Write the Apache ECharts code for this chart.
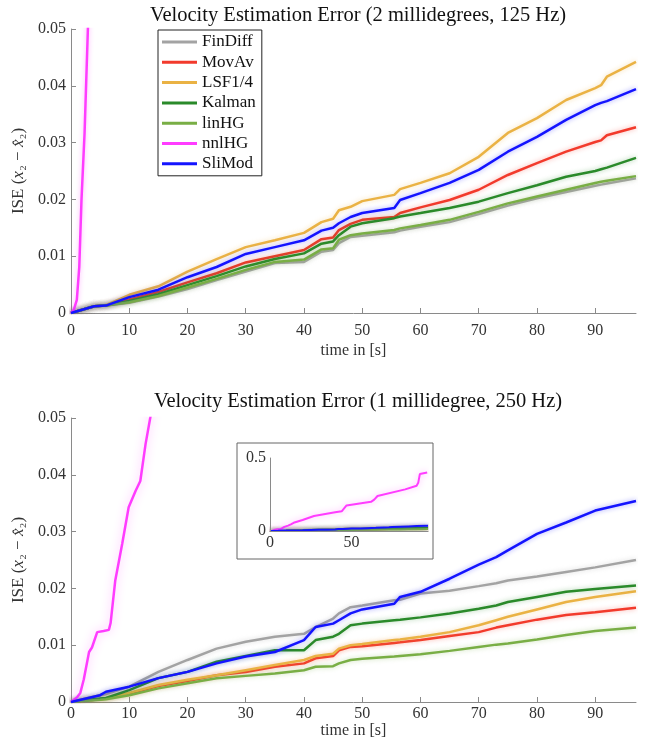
<!DOCTYPE html>
<html>
<head>
<meta charset="utf-8">
<script src="https://cdn.jsdelivr.net/npm/echarts@6/dist/echarts.min.js"></script>
<style>
  html, body { margin: 0; padding: 0; background: #fff; }
  #chart { width: 649px; height: 748px; }
</style>
</head>
<body>
<div id="chart"></div>
<script>
// --- data ---
const names = ['FinDiff', 'MovAv', 'LSF1/4', 'Kalman', 'linHG', 'nnlHG', 'SliMod'];
const colors = ['#a3a3a3', '#f23a2c', '#eab244', '#2a8a2a', '#79ae45', '#ff3cff', '#1414ff'];

const xTicks = [0, 10, 20, 30, 40, 50, 60, 70, 80, 90];
const yTicks = [0, 0.01, 0.02, 0.03, 0.04, 0.05];
const insetXTicks = [0, 50];
const insetYTicks = [0, 0.5];

// top: 2 millidegrees, 125 Hz
const tTop = [0, 4, 6, 10, 15, 20, 25, 30, 35, 40, 43, 45, 46, 48, 50, 55.5, 56.5, 60, 65, 70, 75, 80, 85, 90, 91, 92, 97];
const finDiffTop = [0, .0012, .0013, .0018, .0029, .0042, .0058, .0073, .0088, .0090, .0108, .0111, .0123, .0134, .0136, .0142, .0145, .0152, .0160, .0174, .0189, .0202, .0213, .0224, .0226, .0228, .0237];
const movAvTop   = [0, .0012, .0013, .0024, .0037, .0054, .0070, .0089, .0100, .0111, .0130, .0133, .0146, .0157, .0164, .0169, .0176, .0186, .0199, .0217, .0243, .0264, .0284, .0301, .0304, .0313, .0327];
const lsfTop     = [0, .0012, .0014, .0032, .0047, .0073, .0095, .0116, .0128, .0141, .0160, .0166, .0181, .0187, .0197, .0208, .0218, .0229, .0246, .0275, .0317, .0343, .0375, .0396, .0401, .0416, .0442];
const kalmanTop  = [0, .0012, .0013, .0021, .0033, .0049, .0065, .0082, .0095, .0105, .0122, .0126, .0137, .0152, .0158, .0167, .0170, .0176, .0185, .0196, .0211, .0225, .0240, .0250, .0253, .0256, .0273];
const linHGTop   = [0, .0012, .0013, .0019, .0030, .0045, .0060, .0076, .0090, .0094, .0112, .0114, .0129, .0137, .0140, .0146, .0149, .0155, .0164, .0178, .0193, .0205, .0217, .0229, .0231, .0233, .0241];
const sliModTop  = [0, .0012, .0013, .0028, .0041, .0063, .0081, .0104, .0116, .0128, .0145, .0150, .0158, .0169, .0176, .0185, .0199, .0211, .0229, .0252, .0284, .0310, .0340, .0366, .0370, .0373, .0394];
const tNnlTop = [0, 0.5, 1.0, 1.42, 1.8, 2.33, 2.9, 3.3];
const nnlHGTop = [0, .0006, .0023, .0081, .0199, .0317, .0500, .0600];

// bottom: 1 millidegree, 250 Hz
const tBot = [0, 5, 6, 10, 15, 20, 25, 30, 35, 40, 42, 45, 46, 48, 50, 55.5, 56.5, 60, 65, 70, 73, 75, 80, 85, 90, 97];
const finDiffBot = [0, .0012, .0014, .0027, .0053, .0074, .0094, .0106, .0115, .0120, .0132, .0147, .0156, .0167, .0170, .0179, .0180, .0191, .0196, .0204, .0209, .0214, .0221, .0229, .0237, .0250];
const movAvBot   = [0, .0005, .0006, .0015, .0028, .0037, .0047, .0053, .0062, .0068, .0077, .0081, .0091, .0097, .0098, .0104, .0105, .0109, .0116, .0123, .0131, .0135, .0145, .0153, .0158, .0166];
const lsfBot     = [0, .0005, .0006, .0016, .0030, .0039, .0047, .0056, .0065, .0074, .0081, .0085, .0094, .0100, .0102, .0109, .0110, .0115, .0123, .0135, .0144, .0150, .0163, .0176, .0185, .0195];
const kalmanBot  = [0, .0006, .0007, .0021, .0042, .0053, .0071, .0081, .0091, .0091, .0109, .0115, .0120, .0135, .0138, .0144, .0145, .0149, .0156, .0164, .0170, .0176, .0185, .0194, .0199, .0205];
const linHGBot   = [0, .0004, .0005, .0012, .0024, .0033, .0042, .0046, .0050, .0056, .0062, .0063, .0068, .0074, .0076, .0080, .0081, .0084, .0090, .0097, .0101, .0103, .0110, .0118, .0125, .0131];
const sliModBot  = [0, .0012, .0018, .0027, .0042, .0053, .0068, .0080, .0088, .0109, .0132, .0138, .0144, .0156, .0163, .0173, .0185, .0194, .0217, .0242, .0255, .0267, .0296, .0316, .0337, .0354];
const tNnlBot = [0, 1, 1.6, 2.2, 3.1, 3.6, 4.5, 5.6, 6.5, 6.8, 7.6, 8.8, 9.9, 11.1, 11.9, 12.8, 13.6, 14.5, 20, 27, 40, 44, 47, 62, 64, 66, 83, 90, 91, 92, 96.5];
const nnlHGBot = [0, .0008, .0016, .0040, .0088, .0096, .0123, .0125, .0127, .0139, .0214, .0279, .0343, .0372, .0389, .0454, .0500, .0560, .075, .103, .128, .135, .175, .200, .215, .240, .285, .310, .330, .390, .400];

const topSets = [finDiffTop, movAvTop, lsfTop, kalmanTop, linHGTop, null, sliModTop];
const botSets = [finDiffBot, movAvBot, lsfBot, kalmanBot, linHGBot, null, sliModBot];

const pairs = (xs, ys) => xs.map((x, i) => [x, ys[i]]);

const hexA = (hex, a) => {
  const n = parseInt(hex.slice(1), 16);
  return `rgba(${(n >> 16) & 255},${(n >> 8) & 255},${n & 255},${a})`;
};

const FONT = 'Liberation Serif';
const axisGray = '#8a8a8a';
const labelColor = '#333';

const mainX = (gridIndex, labelMargin, nameGap) => ({
  type: 'value', gridIndex, min: 0, max: 97,
  name: 'time in [s]', nameLocation: 'middle', nameGap,
  nameTextStyle: { fontFamily: FONT, fontSize: 16, color: labelColor },
  axisLine: { lineStyle: { color: axisGray, width: 1 } },
  axisTick: { inside: true, length: 5, lineStyle: { color: axisGray }, customValues: xTicks },
  axisLabel: { fontFamily: FONT, fontSize: 16, color: labelColor, margin: labelMargin, customValues: xTicks },
  splitLine: { show: false }
});

const mainY = (gridIndex) => ({
  type: 'value', gridIndex, min: 0, max: 0.05,
  name: '{a|ISE (}{b|x}{a|₂ − }{b|x̂}{a|₂)}', nameLocation: 'middle', nameGap: 36,
  nameTextStyle: {
    rich: {
      a: { fontFamily: FONT, fontSize: 17, color: labelColor },
      b: { fontFamily: FONT, fontSize: 17, fontStyle: 'italic', color: labelColor }
    }
  },
  axisLine: { show: true, lineStyle: { color: axisGray, width: 1 } },
  axisTick: { show: true, inside: true, length: 5, lineStyle: { color: axisGray }, customValues: yTicks },
  axisLabel: {
    fontFamily: FONT, fontSize: 16, color: labelColor, margin: 5, customValues: yTicks,
    formatter: v => (v === 0 ? '0' : v.toFixed(2))
  },
  splitLine: { show: false }
});

const series = [];
const addLine = (name, i, data, xIdx, yIdx, z, width, blur) => {
  series.push({
    name, type: 'line', xAxisIndex: xIdx, yAxisIndex: yIdx, data,
    showSymbol: false, symbol: 'none', z,
    color: colors[i],
    lineStyle: { color: colors[i], width: width, shadowColor: hexA(colors[i], 0.4), shadowBlur: blur },
    emphasis: { disabled: true },
    clip: true
  });
};

names.forEach((name, i) => {
  if (name === 'nnlHG') {
    addLine(name, i, pairs(tNnlTop, nnlHGTop), 0, 0, 2, 2.5, 5);
    addLine(name, i, pairs(tNnlBot, nnlHGBot), 1, 1, 2, 2.5, 10);
    addLine(name, i, pairs(tNnlBot, nnlHGBot), 2, 2, 6, 2, 6);
  } else {
    addLine(name, i, pairs(tTop, topSets[i]), 0, 0, 2, 2.5, 5);
    addLine(name, i, pairs(tBot, botSets[i]), 1, 1, 2, 2.5, 5);
    addLine(name, i, pairs(tBot, botSets[i]), 2, 2, 6, 2, 4);
  }
});

const chart = echarts.init(document.getElementById('chart'), null, { renderer: 'canvas' });

chart.setOption({
  animation: false,
  backgroundColor: '#fff',
  title: [
    { text: 'Velocity Estimation Error (2 millidegrees, 125 Hz)', left: 353, top: 0, textAlign: 'center',
      textStyle: { fontFamily: FONT, fontSize: 20.5, fontWeight: 'normal', color: '#111' } },
    { text: 'Velocity Estimation Error (1 millidegree, 250 Hz)', left: 353, top: 386, textAlign: 'center',
      textStyle: { fontFamily: FONT, fontSize: 20.5, fontWeight: 'normal', color: '#111' } }
  ],
  legend: {
    data: names,
    orient: 'vertical',
    left: 158, top: 30,
    padding: [3, 6, 3, 4],
    itemGap: 2.3,
    itemWidth: 35, itemHeight: 3,
    icon: 'rect',
    backgroundColor: '#fff',
    borderColor: '#222', borderWidth: 1,
    selectedMode: false,
    textStyle: { fontFamily: FONT, fontSize: 17, color: '#111', lineHeight: 18 }
  },
  grid: [
    { left: 71, top: 29, width: 565, height: 284 },
    { left: 71, top: 418, width: 565, height: 284 },
    { left: 270, top: 458, width: 158, height: 73 }
  ],
  xAxis: [
    mainX(0, 10, 30),
    mainX(1, 4, 18),
    {
      type: 'value', gridIndex: 2, min: 0, max: 97, z: 7,
      axisLine: { lineStyle: { color: axisGray } },
      axisTick: { show: false },
      axisLabel: { fontFamily: FONT, fontSize: 16, color: labelColor, margin: 4, customValues: insetXTicks },
      splitLine: { show: false }
    }
  ],
  yAxis: [
    mainY(0),
    mainY(1),
    {
      type: 'value', gridIndex: 2, min: 0, max: 0.5, z: 7,
      axisLine: { show: true, lineStyle: { color: axisGray } },
      axisTick: { show: false },
      axisLabel: { fontFamily: FONT, fontSize: 16, color: labelColor, margin: 4, customValues: insetYTicks,
        formatter: v => (v === 0 ? '0' : String(v)) },
      splitLine: { show: false }
    }
  ],
  graphic: [
    {
      type: 'rect', z: 4,
      shape: { x: 237, y: 443, width: 196, height: 116 },
      style: { fill: '#fff', stroke: '#666', lineWidth: 1 }
    }
  ],
  series
});
</script>
</body>
</html>
